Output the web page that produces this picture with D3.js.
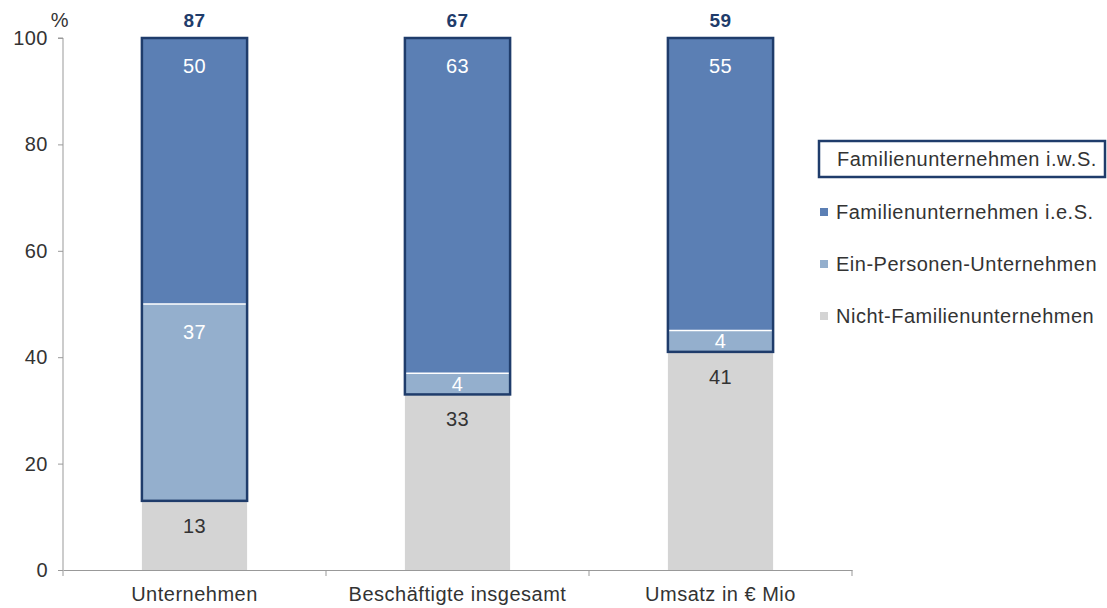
<!DOCTYPE html>
<html>
<head>
<meta charset="utf-8">
<script src="https://cdn.jsdelivr.net/npm/d3@7"></script>
<style>
  body { margin: 0; background: #fff; }
  text { font-family: "Liberation Sans", Arial, sans-serif; letter-spacing: 0.5px; }
</style>
</head>
<body>
<svg id="chart" width="1107" height="608"></svg>
<script>
// Categories and stacked shares (percent)
const categories = ["Unternehmen", "Beschäftigte insgesamt", "Umsatz in € Mio"];
const nichtFamilien = [13, 33, 41];
const einPersonen = [37, 4, 4];
const familienIeS = [50, 63, 55];
const familienIwS = [87, 67, 59];
const yTicks = [0, 20, 40, 60, 80, 100];

const seriesNames = ["Familienunternehmen i.w.S.", "Familienunternehmen i.e.S.", "Ein-Personen-Unternehmen", "Nicht-Familienunternehmen"];
const colors = { ies: "#5b7fb4", ein: "#94afcd", nicht: "#d4d4d4", iws: "#1f3c6b" };
const FS = 20;
const textColor = "#333";

const svg = d3.select("#chart");
const left = 63, right = 852;

const x = d3.scaleBand().domain(categories).range([left, right]).paddingInner(0.6).paddingOuter(0.3);
const y = d3.scaleLinear().domain([0, 100]).range([570, 38]);

// Stack rows
const rows = categories.map((c, i) => ({ cat: c, nicht: nichtFamilien[i], ein: einPersonen[i], ies: familienIeS[i], iws: familienIwS[i] }));
const stack = d3.stack().keys(["nicht", "ein", "ies"])(rows);

const g = svg.append("g");
stack.forEach(layer => {
  g.selectAll(null).data(layer).enter().append("rect")
    .attr("x", d => x(d.data.cat))
    .attr("width", x.bandwidth())
    .attr("y", d => y(d[1]))
    .attr("height", d => y(d[0]) - y(d[1]))
    .attr("fill", colors[layer.key]);
});
// white separator between the two blue segments
g.selectAll(null).data(stack[1]).enter().append("line")
  .attr("x1", d => x(d.data.cat)).attr("x2", d => x(d.data.cat) + x.bandwidth())
  .attr("y1", d => y(d[1])).attr("y2", d => y(d[1]))
  .attr("stroke", "#fff").attr("stroke-width", 1.5);

// Outline for Familienunternehmen i.w.S.
g.selectAll(null).data(rows).enter().append("rect")
  .attr("x", d => x(d.cat))
  .attr("width", x.bandwidth())
  .attr("y", d => y(d.nicht + d.iws))
  .attr("height", d => y(d.nicht) - y(d.nicht + d.iws))
  .attr("fill", "none").attr("stroke", colors.iws).attr("stroke-width", 2.5);

// Segment labels
const labelColor = { nicht: textColor, ein: "#fff", ies: "#fff" };
stack.forEach(layer => {
  g.selectAll(null).data(layer).enter().append("text")
    .attr("x", d => x(d.data.cat) + x.bandwidth() / 2)
    .attr("y", d => {
      const v = d[1] - d[0];
      if (v < 8) return (y(d[0]) + y(d[1])) / 2 + 7;
      if (layer.key === "nicht") return y(d[1]) + 32;
      return y(d[1]) + 35;
    })
    .attr("text-anchor", "middle")
    .attr("font-size", FS)
    .attr("fill", labelColor[layer.key])
    .text(d => d[1] - d[0]);
});

// Totals above bars
g.selectAll(null).data(rows).enter().append("text")
  .attr("x", d => x(d.cat) + x.bandwidth() / 2)
  .attr("y", 27)
  .attr("text-anchor", "middle")
  .attr("font-size", FS - 1).attr("font-weight", "bold")
  .attr("fill", colors.iws)
  .text(d => d.iws);

// Axes
const yAxis = svg.append("g").attr("transform", `translate(${left},0)`)
  .call(d3.axisLeft(y).tickValues(yTicks).tickSize(5).tickPadding(10));
yAxis.select(".domain").attr("stroke", "#999").attr("d", `M-5,${y(100)}H0V${y(0)}`);
yAxis.selectAll(".tick line").attr("stroke", "#999");
yAxis.selectAll(".tick text").attr("font-size", FS).attr("fill", textColor).attr("font-family", "Liberation Sans, Arial, sans-serif");

const xAxis = svg.append("g").attr("transform", `translate(0,${y(0)})`)
  .call(d3.axisBottom(x).tickSize(0).tickPadding(17));
xAxis.select(".domain").attr("stroke", "#999");
xAxis.selectAll(".tick text").attr("font-size", FS).attr("fill", textColor).attr("font-family", "Liberation Sans, Arial, sans-serif");
// category boundary ticks
const bounds = d3.range(categories.length + 1).map(i => left + i * (right - left) / categories.length);
xAxis.selectAll(null).data(bounds).enter().append("line")
  .attr("x1", d => d).attr("x2", d => d).attr("y1", 0).attr("y2", 6).attr("stroke", "#999");

svg.append("text").attr("x", 60).attr("y", 27).attr("text-anchor", "middle")
  .attr("font-size", FS).attr("fill", textColor).text("%");

// Legend
const lg = svg.append("g");
lg.append("rect").attr("x", 819).attr("y", 141).attr("width", 286).attr("height", 36)
  .attr("fill", "#fff").attr("stroke", colors.iws).attr("stroke-width", 2.5);
lg.append("text").attr("x", 837).attr("y", 166).attr("font-size", FS).attr("fill", textColor).text(seriesNames[0]);
const items = [[seriesNames[1], colors.ies], [seriesNames[2], colors.ein], [seriesNames[3], colors.nicht]];
items.forEach((it, i) => {
  const cy = 212 + i * 52;
  lg.append("rect").attr("x", 820).attr("y", cy - 4).attr("width", 8).attr("height", 8).attr("fill", it[1]);
  lg.append("text").attr("x", 836).attr("y", cy + 7).attr("font-size", FS).attr("fill", textColor).text(it[0]);
});
</script>
</body>
</html>
